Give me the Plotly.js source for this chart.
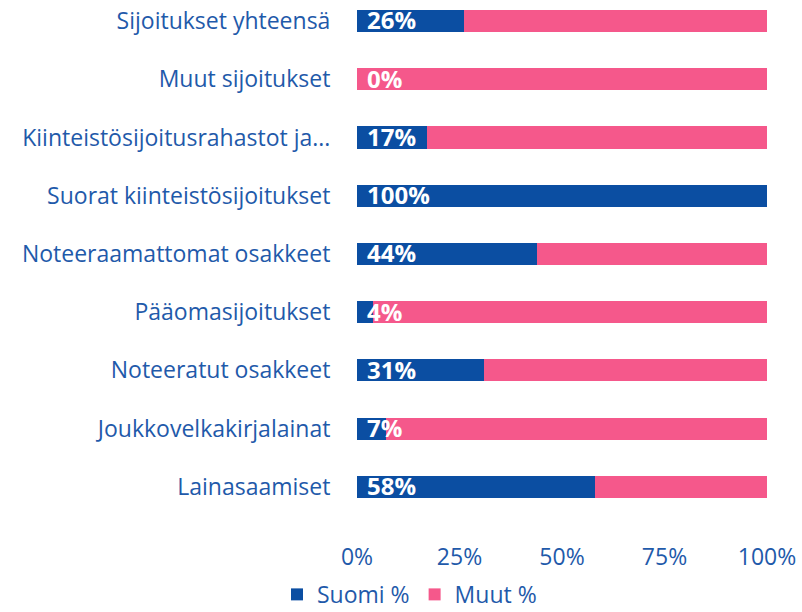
<!DOCTYPE html>
<html>
<head>
<meta charset="utf-8">
<script src="https://cdn.plot.ly/plotly-3.0.1.min.js"></script>
<style>html,body{margin:0;padding:0;background:#fff;}#chart{width:802px;height:612px;}</style>
</head>
<body>
<div id="chart"></div>
<script>
const categories = [
  "Sijoitukset yhteensä",
  "Muut sijoitukset",
  "Kiinteistösijoitusrahastot ja...",
  "Suorat kiinteistösijoitukset",
  "Noteeraamattomat osakkeet",
  "Pääomasijoitukset",
  "Noteeratut osakkeet",
  "Joukkovelkakirjalainat",
  "Lainasaamiset"
];
const suomiPct = [26, 0, 17, 100, 44, 4, 31, 7, 58];
const muutPct = [74, 100, 83, 0, 56, 96, 69, 93, 42];
const xTickVals = [0, 25, 50, 75, 100];
const xTickText = ["0%", "25%", "50%", "75%", "100%"];

const blue = "#0B4EA2";
const pink = "#F5588B";
const textBlue = "#1F5AAA";
const fontFam = "'Open Sans', 'Noto Sans', sans-serif";

const traces = [
  {type: "bar", orientation: "h", name: "Suomi %", y: categories, x: suomiPct,
   marker: {color: blue}, hoverinfo: "none"},
  {type: "bar", orientation: "h", name: "Muut %", y: categories, x: muutPct,
   marker: {color: pink}, hoverinfo: "none"}
];

const annotations = categories.map((c, i) => ({
  x: 0, y: c, xref: "x", yref: "y", text: "<b>" + suomiPct[i] + "%</b>",
  showarrow: false, xanchor: "left", yanchor: "middle", xshift: 8, yshift: 1,
  font: {family: fontFam, size: 24, color: "#ffffff"}
}));

const layout = {
  width: 802, height: 612,
  margin: {l: 357, r: 35, t: 0, b: 96, autoexpand: false},
  barmode: "stack",
  bargap: 0.62,
  paper_bgcolor: "#ffffff", plot_bgcolor: "#ffffff",
  font: {family: fontFam, size: 23, color: textBlue},
  xaxis: {range: [0, 100], tickvals: xTickVals, ticktext: xTickText, automargin: false,
    showgrid: false, zeroline: false, showline: false,
    ticks: "outside", ticklen: 20, tickcolor: "rgba(0,0,0,0)",
    tickfont: {size: 23, color: textBlue}, fixedrange: true},
  yaxis: {type: "category", categoryorder: "array", categoryarray: categories, automargin: false,
    range: [8.5, -0.36], showgrid: false, zeroline: false, showline: false,
    ticks: "outside", ticklen: 21, tickcolor: "rgba(0,0,0,0)",
    tickfont: {size: 23, color: textBlue}, fixedrange: true},
  showlegend: true,
  legend: {orientation: "h", x: 0.128, xanchor: "center",
    y: -0.152, yanchor: "middle", font: {size: 23, color: textBlue},
    traceorder: "normal", itemwidth: 30},
  annotations: annotations
};

Plotly.newPlot("chart", traces, layout, {displayModeBar: false, staticPlot: true});
</script>
</body>
</html>
